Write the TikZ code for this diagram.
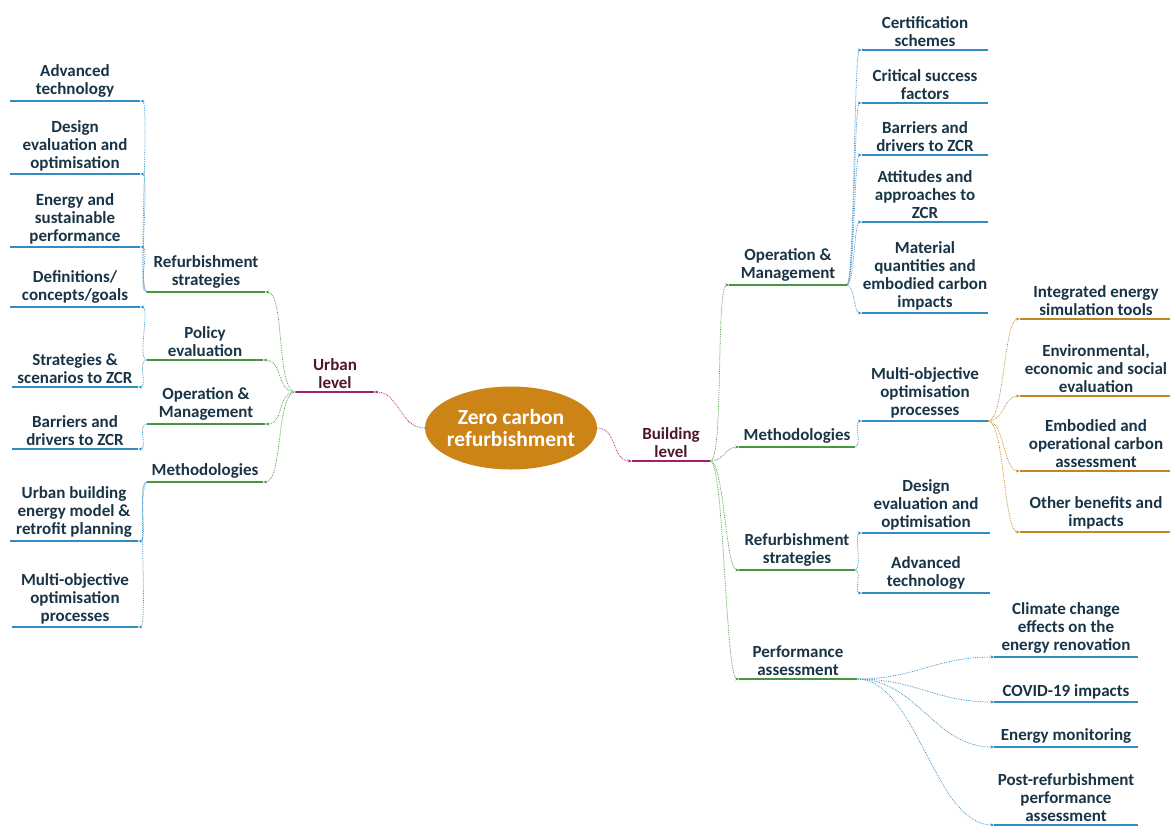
\documentclass[tikz,border=0pt]{standalone}
\usepackage{fontspec}
\setmainfont{Carlito}
\usetikzlibrary{shapes.geometric,arrows.meta}
\definecolor{ink}{RGB}{24,52,70}
\definecolor{plum}{RGB}{78,20,48}
\definecolor{lvl}{RGB}{165,30,105}
\definecolor{grn}{RGB}{72,150,62}
\definecolor{blu}{RGB}{50,140,196}
\definecolor{org}{RGB}{196,134,36}
\definecolor{core}{RGB}{204,132,22}
\tikzset{
  topic/.style={font=\bfseries\fontsize{17}{18}\selectfont, text=ink, align=center,
    anchor=south, inner xsep=0pt, inner ysep=3pt, minimum width=#1},
  bar/.style={line width=2.2pt},
  lk/.style={densely dotted, line width=0.75pt, -{Stealth[length=4pt,width=3pt]}},
}
\begin{document}
\begin{tikzpicture}[x=1pt,y=-1pt]
  \useasboundingbox (0,0) rectangle (1170,825);
  \node[ellipse, fill=core, text=white, minimum width=172pt, minimum height=83pt,
    inner xsep=-20pt, inner ysep=0pt, align=center,
    font=\bfseries\fontsize{21.5}{22}\selectfont] (zcr) at (511,428) {Zero carbon\\refurbishment};
  \node[topic=78pt, text=plum] (urb) at (335,392) {Urban\\level};
  \node[topic=78pt, text=plum] (bld) at (671,461) {Building\\level};
  % urban level
  \node[topic=118pt] (urs) at (206,292) {Refurbishment\\strategies};
  \node[topic=116pt] (upe) at (205,360) {Policy\\evaluation};
  \node[topic=118pt] (uom) at (206,424) {Operation \&\\Management};
  \node[topic=116pt] (ume) at (205,482) {Methodologies};
  \node[topic=130pt] (uat) at (75,101) {Advanced\\technology};
  \node[topic=130pt] (ude) at (75,174) {Design\\evaluation and\\optimisation};
  \node[topic=130pt] (uen) at (75,247) {Energy and\\sustainable\\performance};
  \node[topic=130pt] (udc) at (75,307) {Definitions/\\concepts/goals};
  \node[topic=126pt] (uss) at (75,387) {Strategies \&\\scenarios to ZCR};
  \node[topic=126pt] (ubd) at (75,449) {Barriers and\\drivers to ZCR};
  \node[topic=128pt] (uub) at (74,541) {Urban building\\energy model \&\\retrofit planning};
  \node[topic=126pt] (umo) at (75,627) {Multi-objective\\optimisation\\processes};
  % building level
  \node[topic=117pt] (bom) at (788,285) {Operation \&\\Management};
  \node[topic=115pt] (bme) at (797,447) {Methodologies};
  \node[topic=115pt] (brs) at (797,570) {Refurbishment\\strategies};
  \node[topic=117pt] (bpa) at (798,679) {Performance\\assessment};
  \node[topic=126pt] (bcs) at (925,50) {Certification\\schemes};
  \node[topic=126pt] (bcf) at (925,103) {Critical success\\factors};
  \node[topic=126pt] (bbd) at (925,155) {Barriers and\\drivers to ZCR};
  \node[topic=126pt] (baa) at (925,222) {Attitudes and\\approaches to\\ZCR};
  \node[topic=126pt] (bmq) at (925,313) {Material\\quantities and\\embodied carbon\\impacts};
  \node[topic=126pt] (bmo) at (925,421) {Multi-objective\\optimisation\\processes};
  \node[topic=128pt] (bde) at (926,533) {Design\\evaluation and\\optimisation};
  \node[topic=128pt] (bat) at (926,593) {Advanced\\technology};
  \node[topic=152pt] (bie) at (1096,319) {Integrated energy\\simulation tools};
  \node[topic=152pt] (bee) at (1096,396) {Environmental,\\economic and social\\evaluation};
  \node[topic=152pt] (beo) at (1096,471) {Embodied and\\operational carbon\\assessment};
  \node[topic=152pt] (bob) at (1096,532) {Other benefits and\\impacts};
  \node[topic=143pt] (bcc) at (1066,657) {Climate change\\effects on the\\energy renovation};
  \node[topic=143pt] (bcv) at (1066,702) {COVID-19 impacts};
  \node[topic=143pt] (bem) at (1066,747) {Energy monitoring};
  \node[topic=143pt] (bpr) at (1066,825) {Post-refurbishment\\performance\\assessment};
  % connectors
  \draw[lk,lvl] (zcr.west) to[out=180,in=0,distance=25pt] (urb.south east);
  \draw[lk,lvl] (zcr.east) to[out=0,in=180,distance=20pt] (bld.south west);
  \foreach \n in {urs,upe,uom,ume}
    \draw[lk,grn] (urb.south west) to[out=180,in=0,distance=20pt] (\n.south east);
  \foreach \p/\n in {urs/uat,urs/ude,urs/uen,upe/udc,upe/uss,uom/ubd,ume/uub,ume/umo}
    \draw[lk,blu] (\p.south west) to[out=180,in=0,distance=10pt] (\n.south east);
  \foreach \n in {bom,bme,brs,bpa}
    \draw[lk,grn] (bld.south east) to[out=0,in=180,distance=14pt] (\n.south west);
  \foreach \p/\n in {bom/bcs,bom/bcf,bom/bbd,bom/baa,bom/bmq,bme/bmo,brs/bde,brs/bat}
    \draw[lk,blu] (\p.south east) to[out=0,in=180,distance=8pt] (\n.south west);
  \foreach \n in {bie,bee,beo,bob}
    \draw[lk,org] (bmo.south east) to[out=0,in=180,distance=16pt] (\n.south west);
  \foreach \n in {bcc,bcv,bem,bpr}
    \draw[lk,blu] (bpa.south east) to[out=0,in=180,distance=60pt] (\n.south west);
  % underlines
  \foreach \n/\c in {urb/lvl,bld/lvl,urs/grn,upe/grn,uom/grn,ume/grn,bom/grn,bme/grn,brs/grn,bpa/grn,
      uat/blu,ude/blu,uen/blu,udc/blu,uss/blu,ubd/blu,uub/blu,umo/blu,
      bcs/blu,bcf/blu,bbd/blu,baa/blu,bmq/blu,bmo/blu,bde/blu,bat/blu,bcc/blu,bcv/blu,bem/blu,bpr/blu,
      bie/org,bee/org,beo/org,bob/org}
    \draw[bar,\c] (\n.south west) -- (\n.south east);
\end{tikzpicture}
\end{document}
